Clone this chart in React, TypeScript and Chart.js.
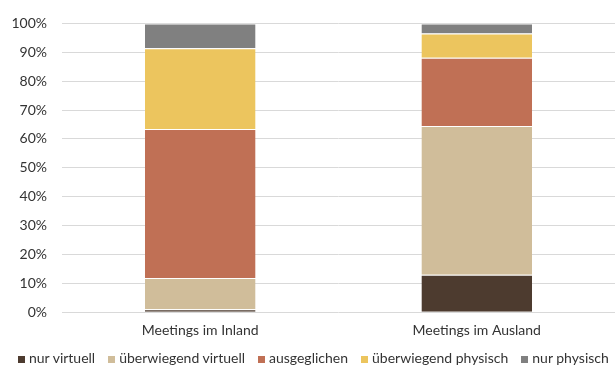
import React, { useEffect, useRef } from "react";
import { Chart, registerables } from "chart.js";

Chart.register(...registerables);

const categories = ["Meetings im Inland", "Meetings im Ausland"];
const seriesNames = ["nur virtuell", "überwiegend virtuell", "ausgeglichen", "überwiegend physisch", "nur physisch"];
const nurVirtuell = [1, 13];
const ueberwiegendVirtuell = [10.8, 51.5];
const ausgeglichen = [51.6, 23.6];
const ueberwiegendPhysisch = [28, 8.4];
const nurPhysisch = [8.6, 3.5];
const yTicks = [0, 10, 20, 30, 40, 50, 60, 70, 80, 90, 100];
const colors = ["#4d3b2f", "#d0bd9a", "#c07055", "#ecc55e", "#808080"];

const FONT = "Lato, 'Noto Sans', sans-serif";

export default function App() {
  const ref = useRef<HTMLCanvasElement>(null);
  useEffect(() => {
    document.body.style.margin = "0";
    const font = { family: FONT, size: 14 };
    const values = [nurVirtuell, ueberwiegendVirtuell, ausgeglichen, ueberwiegendPhysisch, nurPhysisch];
    const chart = new Chart(ref.current!, {
      type: "bar",
      data: {
        labels: categories,
        datasets: seriesNames.map((label, i) => ({
          label,
          data: values[i],
          backgroundColor: colors[i],
          borderColor: "#ffffff",
          borderWidth: { top: 1, bottom: 0, left: 0, right: 0 },
          borderSkipped: false as const,
          categoryPercentage: 0.8,
          barPercentage: 0.5,
        })),
      },
      options: {
        responsive: false,
        animation: false,
        layout: { padding: { top: 11, left: 0, right: 0, bottom: 18 } },
        plugins: {
          tooltip: { enabled: false },
          legend: { display: false },
        },
        scales: {
          x: {
            stacked: true,
            grid: { display: false, drawTicks: false },
            border: { display: false },
            ticks: { color: "#333333", font, padding: 10 },
          },
          y: {
            stacked: true,
            min: 0,
            max: 100,
            afterBuildTicks: (axis: any) => {
              axis.ticks = yTicks.map((v) => ({ value: v }));
            },
            afterFit: (s: any) => {
              s.width = 62;
            },
            grid: { color: "#d9d9d9", drawTicks: false, lineWidth: 1 },
            border: { display: false },
            ticks: {
              color: "#333333",
              font,
              padding: 15,
              callback: (v: any) => v + "%",
            },
          },
        },
      },
    });
    return () => chart.destroy();
  }, []);
  return (
    <div style={{ position: "relative", width: 615, height: 367 }}>
      <canvas ref={ref} width={615} height={367} style={{ display: "block" }} />
      <div
        style={{
          position: "absolute",
          left: 18,
          top: 349,
          display: "flex",
          alignItems: "center",
          whiteSpace: "nowrap",
          fontFamily: FONT,
          fontSize: 14,
          lineHeight: "17px",
          color: "#333333",
        }}
      >
        {seriesNames.map((name, i) => (
          <span key={name} style={{ display: "flex", alignItems: "center", marginRight: 13 }}>
            <span
              style={{
                display: "inline-block",
                width: 7,
                height: 7,
                background: colors[i],
                marginRight: 4,
                marginTop: 3,
              }}
            />
            {name}
          </span>
        ))}
      </div>
    </div>
  );
}
